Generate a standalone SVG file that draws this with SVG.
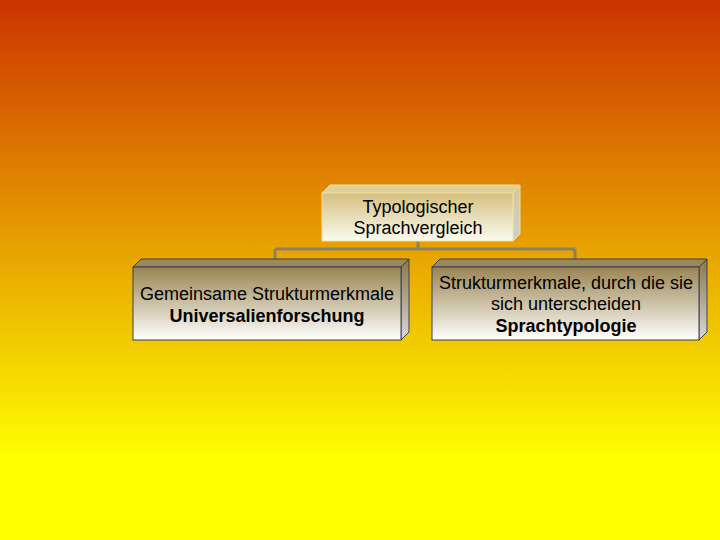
<svg xmlns="http://www.w3.org/2000/svg" width="720" height="540" viewBox="0 0 720 540">
<defs>
<linearGradient id="bg" x1="0" y1="0" x2="0" y2="1">
<stop offset="0" stop-color="#cc3300"/>
<stop offset="0.45" stop-color="#e6a000"/>
<stop offset="0.85" stop-color="#ffff00"/>
<stop offset="1" stop-color="#ffff00"/>
</linearGradient>
<linearGradient id="front" x1="0" y1="0" x2="0" y2="1">
<stop offset="0" stop-color="#9a8450"/>
<stop offset="1" stop-color="#ffffff"/>
</linearGradient>
<linearGradient id="frontTop" x1="0" y1="0" x2="0" y2="1">
<stop offset="0" stop-color="#d6c080"/>
<stop offset="1" stop-color="#fbfbf0"/>
</linearGradient>
<linearGradient id="side" x1="0" y1="0" x2="0" y2="1">
<stop offset="0" stop-color="#8a7648"/>
<stop offset="1" stop-color="#d8d8d8"/>
</linearGradient>
<linearGradient id="sideTop" x1="0" y1="0" x2="0" y2="1">
<stop offset="0" stop-color="#d8c890"/>
<stop offset="1" stop-color="#c8d0d8"/>
</linearGradient>
</defs>
<style>
.t{font-family:"Liberation Sans",Arial,sans-serif;font-size:18px;fill:#000;text-anchor:middle}
.b{font-weight:bold}
.edge{stroke:#3c3c5a;stroke-width:1}
.topedge{stroke:#f0e0a0;stroke-width:1}
.conn{fill:none;stroke:#8c8060;stroke-width:3}
</style>
<rect width="720" height="540" fill="url(#bg)"/>
<g id="connectors">
<path class="conn" d="M418 241 V249 M275 249 H575 M275 249 V263 M575 249 V263"/>
</g>
<g id="top">
<polygon points="322,193 330,185 520,185 513,193" fill="#ddd09a" class="topedge"/>
<polygon points="513,193 520,185 520,234 513,241" fill="url(#sideTop)" class="topedge"/>
<rect x="322" y="193" width="191" height="48" fill="url(#frontTop)" class="topedge"/>
<text class="t" x="418" y="213">Typologischer</text>
<text class="t" x="418" y="234">Sprachvergleich</text>
</g>
<g id="left">
<polygon points="133,267 141,259 409,259 401,267" fill="#9a8a58" class="edge"/>
<polygon points="401,267 409,259 409,332 401,340" fill="url(#side)" class="edge"/>
<rect x="133" y="267" width="268" height="73" fill="url(#front)" class="edge"/>
<text class="t" x="267" y="300">Gemeinsame Strukturmerkmale</text>
<text class="t b" x="267" y="322">Universalienforschung</text>
</g>
<g id="right">
<polygon points="432,267 440,259 707,259 699,267" fill="#9a8a58" class="edge"/>
<polygon points="699,267 707,259 707,332 699,340" fill="url(#side)" class="edge"/>
<rect x="432" y="267" width="267" height="73" fill="url(#front)" class="edge"/>
<text class="t" x="566" y="289">Strukturmerkmale, durch die sie</text>
<text class="t" x="566" y="310">sich unterscheiden</text>
<text class="t b" x="566" y="332">Sprachtypologie</text>
</g>
</svg>
